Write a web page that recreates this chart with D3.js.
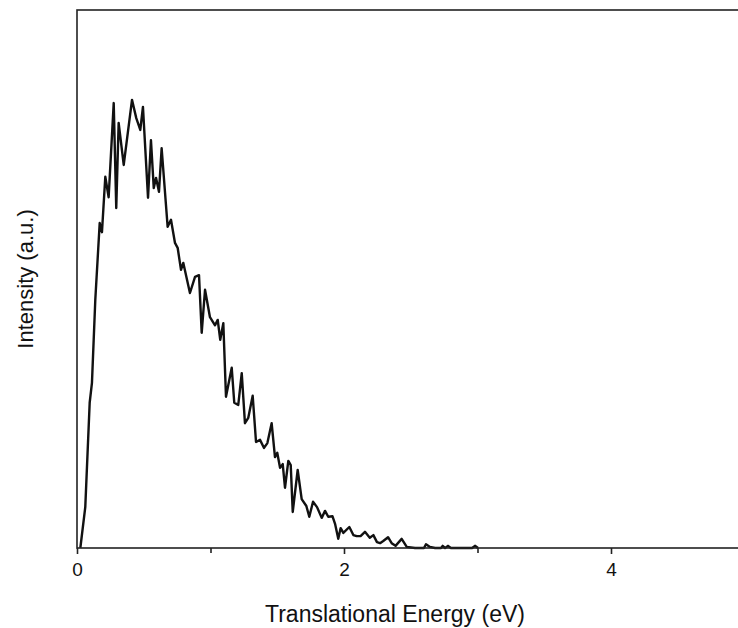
<!DOCTYPE html>
<html>
<head>
<meta charset="utf-8">
<script src="https://cdn.jsdelivr.net/npm/d3@7"></script>
<style>
  body { margin: 0; background: #fff; }
  svg { display: block; font-family: "Liberation Sans", Arial, sans-serif; }
</style>
</head>
<body>
<script>
    // spectrum (energy in eV, intensity in arbitrary units)
    let energy = [0.025, 0.062, 0.095, 0.112, 0.137, 0.170, 0.187, 0.212, 0.237, 0.275,
      0.294, 0.312, 0.350, 0.412, 0.444, 0.474, 0.494, 0.532, 0.554, 0.575,
      0.592, 0.614, 0.634, 0.679, 0.704, 0.734, 0.754, 0.779, 0.796, 0.846,
      0.884, 0.914, 0.934, 0.959, 0.996, 1.034, 1.054, 1.073, 1.096, 1.116,
      1.159, 1.178, 1.208, 1.234, 1.258, 1.283, 1.316, 1.341, 1.371, 1.401,
      1.426, 1.458, 1.483, 1.500, 1.521, 1.541, 1.558, 1.583, 1.601, 1.616,
      1.653, 1.683, 1.718, 1.740, 1.768, 1.798, 1.833, 1.858, 1.882, 1.914,
      1.933, 1.957, 1.975, 1.995, 2.040, 2.070, 2.095, 2.124, 2.157, 2.193,
      2.220, 2.247, 2.270, 2.294, 2.330, 2.357, 2.386, 2.432, 2.470, 2.532,
      2.599, 2.614, 2.644, 2.682, 2.727, 2.739, 2.757, 2.779, 2.801, 2.959,
      2.981, 3.004];
    let intensity = [0, 7.6, 27.0, 30.7, 46.1, 60.4, 58.7, 69.0, 65.2, 82.7,
      63.2, 79.0, 71.2, 83.3, 79.9, 77.7, 82.0, 65.1, 75.8, 66.9,
      68.8, 66.2, 74.3, 59.7, 61.0, 56.7, 55.8, 51.7, 53.0, 47.4,
      50.4, 50.7, 40.0, 48.0, 42.9, 41.4, 42.4, 38.7, 41.8, 28.1,
      33.5, 27.0, 26.6, 32.5, 23.2, 24.2, 28.3, 19.7, 20.1, 18.6,
      19.5, 23.2, 16.9, 17.7, 14.9, 15.6, 11.2, 16.2, 15.4, 6.7,
      14.5, 9.1, 7.8, 5.8, 8.6, 7.6, 5.6, 6.9, 5.8, 5.9,
      4.5, 1.7, 3.7, 2.8, 3.9, 2.4, 2.2, 2.2, 3.0, 1.9,
      2.4, 1.1, 0.9, 1.3, 2.0, 0.9, 0.4, 1.7, 0.2, 0,
      0, 0.7, 0.2, 0, 0, 0.4, 0, 0.4, 0, 0,
      0.4, 0];
    let majorTicks = [0, 2, 4];
    let minorTicks = [1, 3];

    let width = 738, height = 628;
    let plot = {"left": 77, "top": 10, "bottom": 548, "right": 744.5};

    const svg = d3.select("body")
      .append("svg")
      .attr("width", width)
      .attr("height", height);

    let xscale = d3.scaleLinear()
      .domain([0, 5])
      .range([plot.left, plot.right]);

    let yscale = d3.scaleLinear()
      .domain([0, 100])
      .range([plot.bottom, plot.top]);

    let points = energy.map((e, i) => [e, intensity[i]]);

    let line = d3.line()
      .x((d) => xscale(d[0]))
      .y((d) => yscale(d[1]));

    svg.append("path")
      .datum(points)
      .attr("d", line)
      .attr("fill", "none")
      .attr("stroke", "#111")
      .attr("stroke-width", 2.4)
      .attr("stroke-linejoin", "round");

    // frame
    svg.append("rect")
      .attr("x", plot.left)
      .attr("y", plot.top)
      .attr("width", plot.right - plot.left)
      .attr("height", plot.bottom - plot.top)
      .attr("fill", "none")
      .attr("stroke", "#222")
      .attr("stroke-width", 1.6);

    let x_axis = d3.axisBottom()
      .scale(xscale)
      .tickValues(majorTicks)
      .tickFormat(d3.format("d"))
      .tickSize(6)
      .tickPadding(9);

    let gx = svg.append("g")
      .attr("transform", "translate(0, " + plot.bottom + ")")
      .call(x_axis);
    gx.select(".domain").remove();
    gx.selectAll(".tick line").attr("stroke", "#222").attr("stroke-width", 1.6);
    gx.selectAll(".tick text")
      .style("font-size", "19px")
      .attr("fill", "#111");

    let x_minor = d3.axisBottom()
      .scale(xscale)
      .tickValues(minorTicks)
      .tickFormat("")
      .tickSize(5);

    let gm = svg.append("g")
      .attr("transform", "translate(0, " + plot.bottom + ")")
      .call(x_minor);
    gm.select(".domain").remove();
    gm.selectAll(".tick line").attr("stroke", "#222").attr("stroke-width", 1.6);

    svg.append("text")
      .text("Translational Energy (eV)")
      .attr("x", 265)
      .attr("y", 622)
      .style("font-size", "23px")
      .attr("fill", "#111");

    svg.append("text")
      .text("Intensity (a.u.)")
      .attr("text-anchor", "middle")
      .attr("transform", "translate(33," + ((plot.top + plot.bottom) / 2) + ") rotate(-90)")
      .style("font-size", "22px")
      .attr("fill", "#111");
</script>
</body>
</html>
